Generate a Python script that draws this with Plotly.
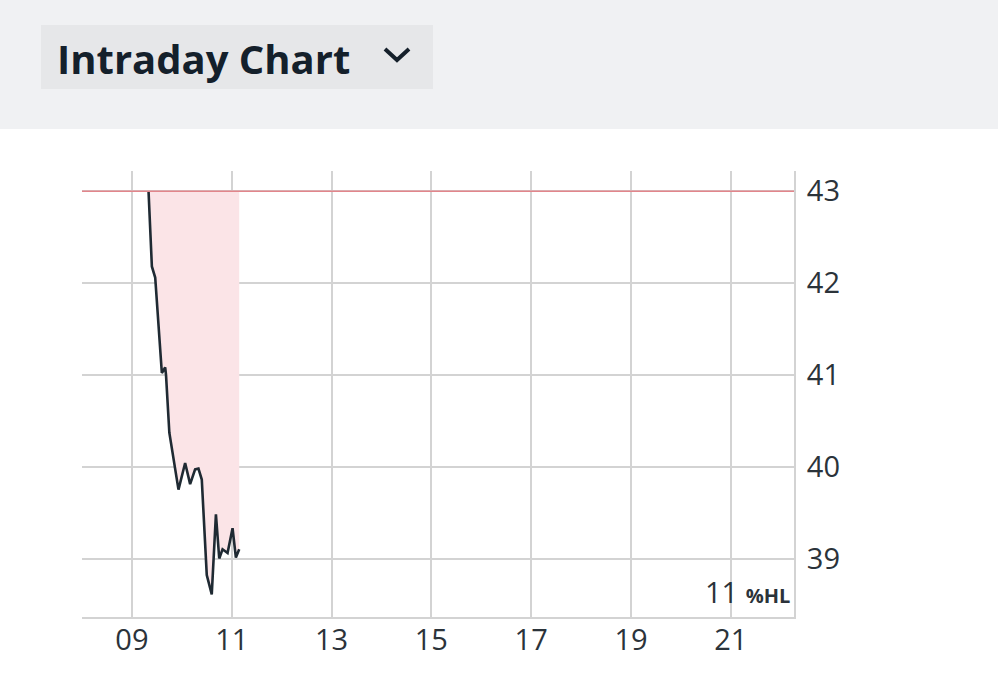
import plotly.graph_objects as go

# ---- data ----
day = "2024-01-02"
times = ["09:20", "09:24", "09:28", "09:36", "09:40", "09:41", "09:45", "09:51",
         "09:56", "10:04", "10:10", "10:16", "10:20", "10:24", "10:30", "10:36",
         "10:41", "10:45", "10:49", "10:55", "11:01", "11:05", "11:09"]
prices = [43.00, 42.18, 42.06, 41.02, 41.08, 41.00, 40.37, 40.04,
          39.75, 40.04, 39.81, 39.97, 39.98, 39.86, 38.82, 38.61,
          39.48, 39.00, 39.10, 39.06, 39.33, 39.01, 39.10]
prev_close = 43.0
x_start, x_end = "08:00", "22:16"
y_min, y_max = 38.363, 43.22
y_ticks = [39, 40, 41, 42, 43]
title_text = "Intraday Chart"
corner_num = "11"
corner_unit = "%HL"

xs = [f"{day} {t}" for t in times]

W, H = 998, 698
ML, MR, MT, MB = 82, 204, 171, 81
PW, PH = W - ML - MR, H - MT - MB


def px(x):
    return (x - ML) / PW


def py(y):
    return (H - MB - y) / PH


fig = go.Figure()
fig.add_trace(go.Scatter(x=xs, y=[prev_close] * len(xs), mode="lines",
                         line=dict(width=0, color="rgba(0,0,0,0)"),
                         hoverinfo="skip", showlegend=False))
fig.add_trace(go.Scatter(x=xs, y=prices, mode="lines", fill="tonexty",
                         fillcolor="#fbe4e7",
                         line=dict(color="#1f2a33", width=2.6),
                         showlegend=False))

shapes = [
    # header background
    dict(type="rect", xref="paper", yref="paper", x0=px(0), x1=px(W),
         y0=py(129), y1=py(0), fillcolor="#f0f1f3", line=dict(width=0),
         layer="below"),
    # title box
    dict(type="rect", xref="paper", yref="paper", x0=px(41), x1=px(433),
         y0=py(89), y1=py(25), fillcolor="#e6e7e9", line=dict(width=0),
         layer="below"),
    # chevron
    dict(type="path", xref="paper", yref="paper",
         path=f"M {px(385)} {py(49)} L {px(397)} {py(60)} L {px(409)} {py(49)}",
         line=dict(color="#15202b", width=4)),
    # previous close line
    dict(type="line", xref="paper", yref="y", x0=0, x1=1, y0=prev_close,
         y1=prev_close, line=dict(color="#e2858b", width=1.5)),
]

annotations = [
    dict(xref="paper", yref="paper", x=px(55), y=py(59), xanchor="left",
         yanchor="middle", showarrow=False, text=f"<b>{title_text}</b>",
         font=dict(family="Open Sans", size=40, color="#14202b")),
    dict(xref="paper", yref="paper", x=px(792), y=py(613), xanchor="right",
         yanchor="bottom", showarrow=False,
         text=f"{corner_num} <b><span style='font-size:20px'>{corner_unit}</span></b>",
         font=dict(family="Open Sans", size=29, color="#2b333a")),
]

fig.update_layout(
    width=W, height=H,
    margin=dict(l=ML, r=MR, t=MT, b=MB, pad=0),
    paper_bgcolor="white", plot_bgcolor="white",
    shapes=shapes, annotations=annotations,
    xaxis=dict(range=[f"{day} {x_start}", f"{day} {x_end}"], type="date",
               tick0=f"{day} 09:00", dtick=7200000, tickformat="%H",
               showgrid=True, gridcolor="#d3d3d3", gridwidth=2,
               showline=True, linecolor="#d3d3d3", linewidth=2,
               zeroline=False, ticks="", ticklabelstandoff=-4,
               tickfont=dict(family="Open Sans", size=29, color="#2b333a")),
    yaxis=dict(range=[y_min, y_max], side="right", tickvals=y_ticks,
               showgrid=True, gridcolor="#d3d3d3", gridwidth=2,
               showline=True, linecolor="#d3d3d3", linewidth=2,
               zeroline=False, ticks="", ticklabelstandoff=5,
               tickfont=dict(family="Open Sans", size=29, color="#2b333a")),
)

fig.write_html("out.html", config={"displayModeBar": False})
